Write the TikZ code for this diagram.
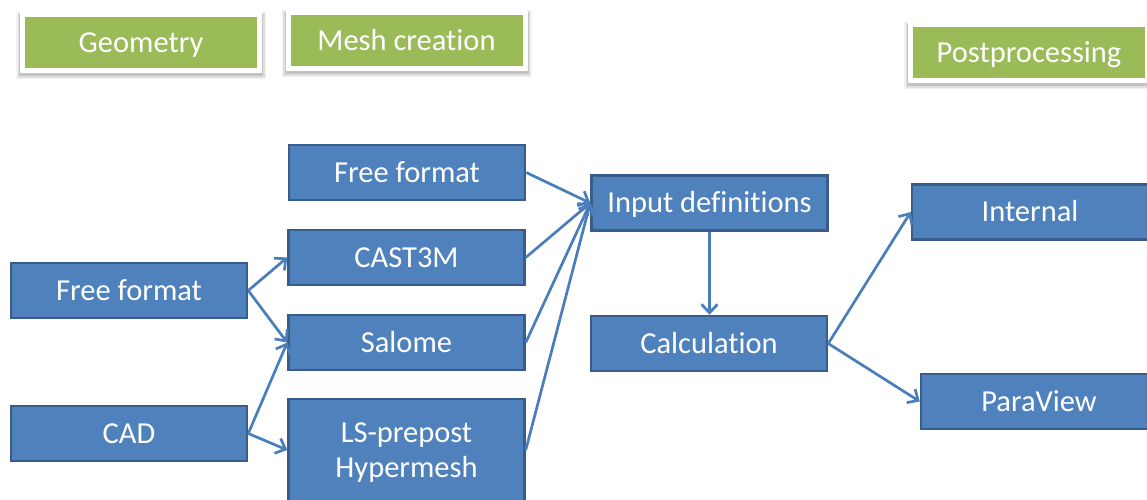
\documentclass[tikz,border=0pt]{standalone}
\usepackage{fontspec}
\setmainfont[Ligatures=NoCommon]{Carlito}
\usetikzlibrary{arrows.meta,backgrounds}
\definecolor{boxfill}{HTML}{4F81BD}
\definecolor{boxline}{HTML}{385D8A}
\definecolor{arrowcol}{HTML}{4A7EBB}
\definecolor{greenfill}{HTML}{9BBB59}
\newcommand\hshadow[1]{%
  \foreach \e/\t/\o in {1/1.5/0.12,2.5/0.5/0.08,4/-0.5/0.05}{%
    \fill[black,opacity=\o] ([shift={(-\e,\t)}]#1.north west) rectangle ([shift={(\e,\e+2)}]#1.south east);}}
\begin{document}
\begin{tikzpicture}[x=1pt,y=-1pt,
  txt/.style={text=white, font=\fontsize{30.5}{35}\selectfont, inner sep=0pt, text height=19.6pt, text depth=0pt, align=center},
  bluebox/.style={txt, rectangle, fill=boxfill, draw=boxline, line width=2.5pt, minimum width=236pt, minimum height=55pt},
  headbox/.style={txt, rectangle, fill=greenfill, draw=white, line width=5pt, minimum width=237pt, minimum height=56pt},
  conn/.style={draw=arrowcol, line width=2.7pt, -{Straight Barb[length=8.5pt,width=16pt]}}
]
\useasboundingbox (0,0) rectangle (1147,499);

% header boxes
\node[headbox] (hgeo) at (141,42.5) {Geometry};
\node[headbox] (hmesh) at (406.5,40.5) {Mesh creation};
\node[headbox] (hpost) at (1029,52.5) {Postprocessing};

\begin{scope}[on background layer]
  \fill[white] (0,0) rectangle (1147,499);
  \hshadow{hgeo}
  \hshadow{hmesh}
  \hshadow{hpost}
\end{scope}

% geometry column
\node[bluebox] (ffg) at (129,290.5) {Free format};
\node[bluebox] (cad) at (129,433.5) {CAD};

% mesh column
\node[bluebox] (ffm) at (407,172.5) {Free format};
\node[bluebox] (cast) at (406.5,257.5) {CAST3M};
\node[bluebox] (salome) at (406.5,342.5) {Salome};
\node[bluebox, minimum height=102pt, text height=54.6pt, text depth=0pt] (ls) at (406.5,450) {LS-prepost\\Hypermesh};

% calculation column
\node[bluebox] (inp) at (709.5,203) {Input definitions};
\node[bluebox] (calc) at (709,343.5) {Calculation};

% postprocessing column
\node[bluebox] (int) at (1030,212) {Internal};
\node[bluebox] (pv) at (1039,401.5) {ParaView};

% connectors
\draw[conn] (ffg.east) -- (cast.west);
\draw[conn] (ffg.east) -- (salome.west);
\draw[conn] (cad.east) -- (salome.west);
\draw[conn] (cad.east) -- (ls.west);
\draw[conn] (ffm.east) -- (inp.west);
\draw[conn] (cast.east) -- (inp.west);
\draw[conn] (salome.east) -- (inp.west);
\draw[conn] (ls.east) -- (inp.west);
\draw[conn] (inp.south) -- (inp.south |- calc.north);
\draw[conn] (calc.east) -- (int.west);
\draw[conn] (calc.east) -- (pv.west);
\end{tikzpicture}
\end{document}
